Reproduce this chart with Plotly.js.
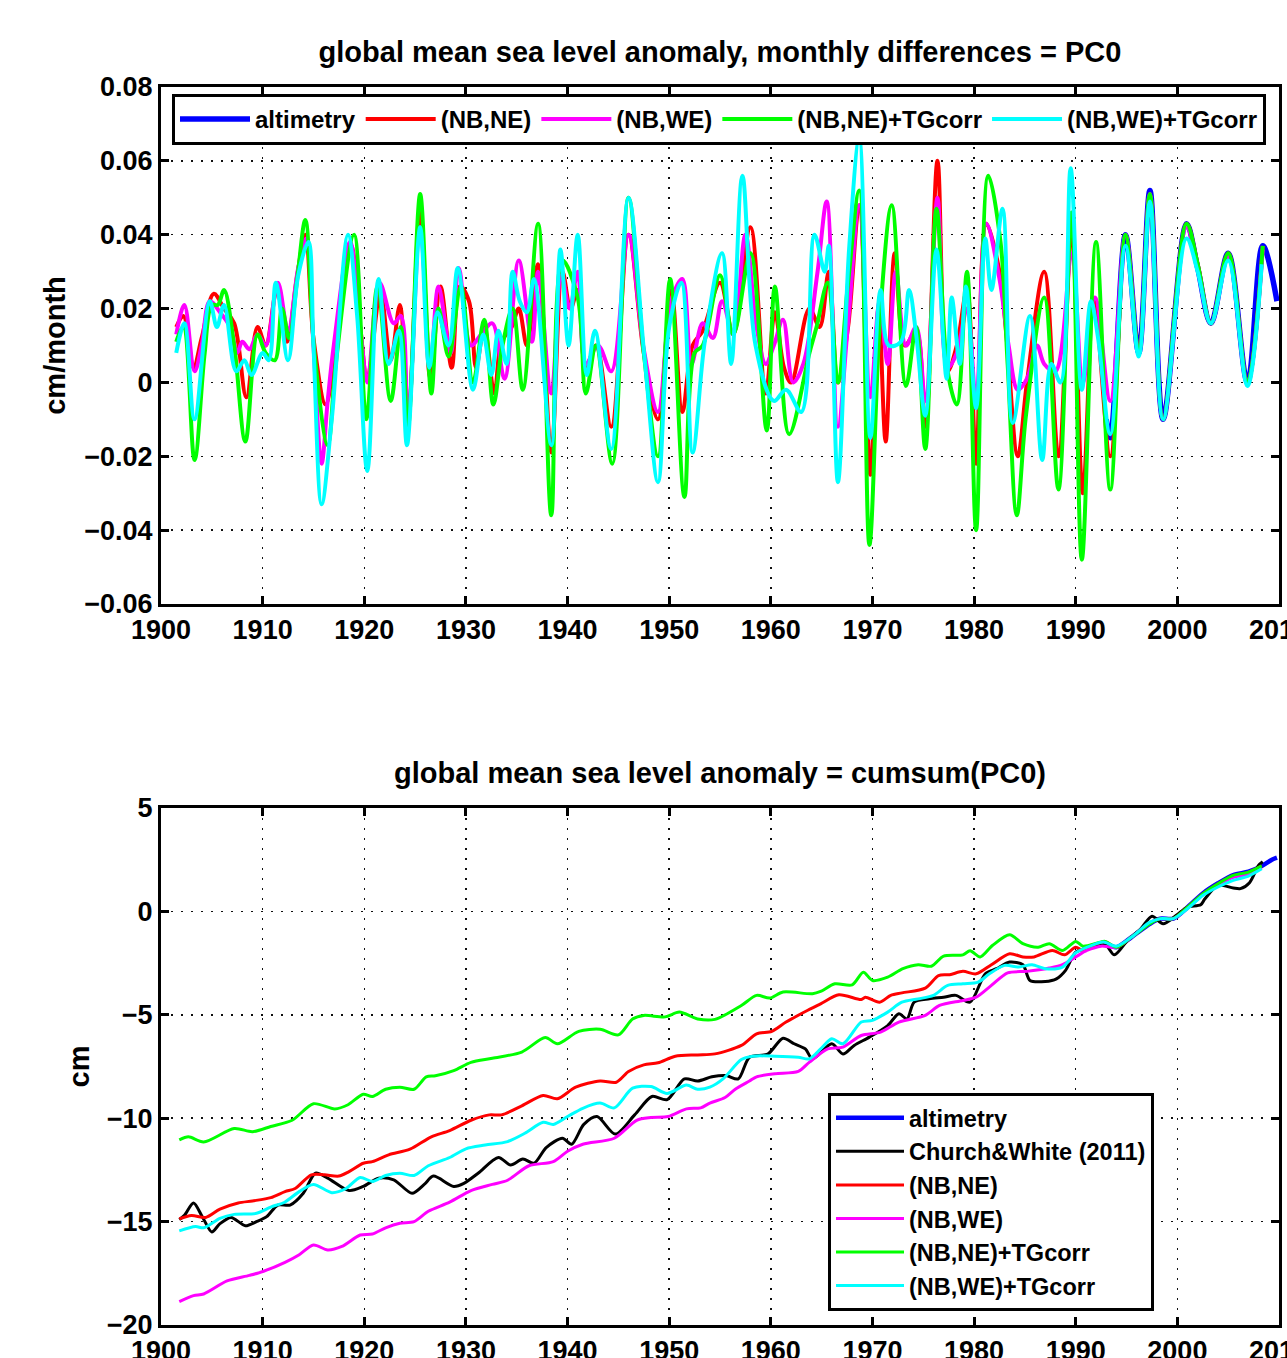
<!DOCTYPE html>
<html>
<head>
<meta charset="utf-8">
<script src="https://cdn.plot.ly/plotly-3.0.1.min.js"></script>
<style>
html,body{margin:0;padding:0;background:#fff;}
#chart{width:1287px;height:1358px;}
</style>
</head>
<body>
<div id="chart"></div>
<script>
// ---------------- TOP PANEL: monthly differences (cm/month) ----------------
var altTopYears = [1993.0,1993.4,1994.9,1996.2,1997.3,1998.6,2000.9,2002.0,2003.3,2005.0,2006.9,2008.4,2009.8];
var altTopVals  = [-0.010,-0.015,0.040,0.008,0.052,-0.010,0.043,0.031,0.016,0.035,0.000,0.037,0.022];

var neTopYears = [1901.5,1902.2,1903.2,1904.0,1905.2,1906.2,1907.2,1908.4,1909.5,1910.3,1911.4,1912.4,1913.4,1914.2,1915.0,1916.2,1917.0,1918.7,1919.6,1920.3,1921.6,1922.6,1923.5,1924.3,1925.5,1926.5,1927.5,1928.6,1929.4,1930.3,1931.0,1931.8,1932.8,1933.5,1934.5,1935.2,1936.0,1937.1,1938.4,1939.5,1940.3,1941.0,1941.8,1942.8,1944.3,1946.0,1947.5,1948.9,1950.2,1951.3,1952.3,1953.3,1955.0,1956.3,1958.0,1959.5,1960.4,1961.3,1962.0,1963.8,1964.8,1965.7,1966.6,1967.6,1968.7,1969.8,1970.6,1971.3,1972.2,1973.2,1974.3,1975.2,1976.4,1977.4,1978.3,1979.3,1980.2,1981.2,1982.5,1983.2,1984.3,1985.2,1986.9,1988.3,1989.6,1990.7,1991.8,1993.4,1994.9,1996.2,1997.3,1998.6,2000.9,2002.0,2003.3,2005.0,2006.9,2008.4];
var neTopVals  = [0.015,0.018,0.004,0.012,0.024,0.020,0.016,-0.004,0.015,0.010,0.025,0.011,0.029,0.040,0.012,-0.006,0.005,0.037,0.015,0.001,0.024,0.006,0.021,-0.010,0.047,0.001,0.026,0.004,0.026,0.022,0.004,0.015,-0.003,0.011,0.015,0.020,0.010,0.032,-0.019,0.030,0.020,0.025,0.004,0.010,-0.012,0.040,0.008,-0.010,0.025,-0.008,0.010,0.014,0.027,0.013,0.042,-0.003,0.019,0.004,0.000,0.020,0.015,0.030,0.000,0.015,0.048,-0.025,0.020,-0.016,0.035,0.010,0.014,-0.012,0.060,0.003,0.010,0.025,-0.022,0.043,0.030,0.012,-0.020,0.000,0.030,-0.020,0.040,-0.030,0.022,-0.020,0.040,0.008,0.051,-0.010,0.043,0.032,0.016,0.035,0.000,0.037];

var weTopYears = [1901.5,1902.3,1903.3,1904.0,1904.8,1905.8,1906.8,1907.5,1908.0,1908.7,1909.5,1910.3,1911.5,1912.5,1913.5,1914.3,1915.0,1915.8,1916.4,1917.0,1918.6,1919.6,1920.3,1921.5,1922.9,1923.6,1924.3,1925.5,1926.5,1927.3,1928.5,1929.3,1930.5,1931.5,1932.6,1933.8,1935.2,1936.5,1937.1,1938.4,1939.4,1940.2,1941.0,1941.8,1943.0,1944.3,1946.0,1947.5,1948.9,1950.2,1951.3,1952.2,1953.3,1954.3,1955.2,1956.3,1957.5,1958.6,1959.5,1960.3,1961.2,1962.2,1963.2,1964.6,1965.5,1966.6,1967.6,1968.7,1969.8,1970.7,1971.5,1972.3,1973.3,1974.3,1975.2,1976.4,1977.4,1978.3,1979.3,1980.2,1981.2,1982.5,1983.4,1984.3,1985.2,1986.2,1986.9,1988.0,1989.6,1990.7,1991.9,1993.4,1994.9,1996.2,1997.3,1998.6,2000.9,2002.0,2003.3,2005.0,2006.9,2008.4];
var weTopVals  = [0.013,0.021,0.003,0.010,0.022,0.019,0.015,0.008,0.011,0.009,0.013,0.010,0.027,0.014,0.031,0.039,0.010,-0.022,-0.005,0.010,0.038,0.015,0.000,0.027,0.016,0.018,-0.010,0.042,0.005,0.026,0.008,0.031,0.010,0.013,0.016,0.001,0.033,0.011,0.030,-0.003,0.029,0.020,0.030,0.005,0.010,0.003,0.040,0.009,-0.008,0.022,0.028,0.005,0.016,0.012,0.022,0.013,0.040,0.015,0.005,0.010,0.017,0.000,0.005,0.030,0.049,-0.012,0.016,0.048,-0.004,0.022,0.005,0.030,0.010,0.015,-0.005,0.050,0.004,0.008,0.020,-0.005,0.043,0.028,0.010,-0.002,0.001,0.010,0.005,0.003,0.035,0.000,0.023,-0.005,0.040,0.008,0.051,-0.010,0.042,0.031,0.016,0.034,0.000,0.036];

var neTgTopYears = [1901.5,1902.2,1903.3,1904.3,1905.0,1905.6,1906.2,1907.2,1908.3,1909.5,1910.3,1911.2,1911.9,1912.6,1913.4,1914.2,1915.1,1916.4,1917.2,1919.0,1920.2,1921.3,1922.6,1923.6,1924.3,1925.5,1926.6,1927.3,1928.3,1929.5,1930.7,1931.8,1932.7,1933.6,1934.6,1935.6,1937.1,1938.4,1939.5,1941.0,1941.8,1942.8,1944.4,1946.0,1947.5,1948.9,1950.1,1951.5,1952.5,1953.3,1955.0,1956.3,1958.0,1959.6,1960.4,1961.8,1963.8,1964.5,1965.6,1966.6,1967.6,1968.7,1969.7,1970.8,1971.9,1973.3,1974.3,1975.2,1976.3,1977.4,1978.3,1979.3,1980.2,1981.4,1982.6,1983.3,1984.2,1985.1,1986.9,1988.3,1989.6,1990.6,1992.0,1993.4,1994.9,1996.2,1997.3,1998.6,2000.9,2002.0,2003.3,2005.0,2006.9,2008.4];
var neTgTopVals  = [0.011,0.015,-0.021,0.008,0.021,0.021,0.025,0.010,-0.016,0.013,0.008,0.006,0.020,0.012,0.028,0.044,0.008,-0.017,0.005,0.040,-0.010,0.026,-0.005,0.015,-0.012,0.051,-0.003,0.020,0.007,0.026,0.000,0.017,-0.006,0.010,0.020,-0.002,0.043,-0.036,0.033,0.023,-0.003,0.010,-0.022,0.050,0.008,-0.020,0.028,-0.031,0.008,0.010,0.029,0.013,0.035,-0.013,0.026,-0.014,0.008,0.015,0.027,0.000,0.027,0.052,-0.044,0.020,0.048,-0.001,0.015,-0.018,0.047,0.003,-0.006,0.030,-0.040,0.056,0.038,0.005,-0.036,-0.009,0.023,-0.029,0.046,-0.048,0.038,-0.029,0.040,0.008,0.051,-0.010,0.043,0.032,0.016,0.035,0.000,0.037];

var weTgTopYears = [1901.5,1902.3,1903.3,1904.8,1905.5,1906.2,1907.4,1908.2,1908.9,1910.0,1910.6,1911.3,1912.5,1913.5,1914.5,1915.0,1915.8,1916.8,1918.4,1919.3,1920.3,1921.4,1922.4,1923.4,1924.2,1925.5,1926.4,1927.2,1928.3,1929.2,1930.7,1931.7,1932.5,1933.2,1934.0,1934.6,1935.3,1936.0,1936.7,1938.4,1939.3,1940.1,1941.0,1941.9,1942.7,1944.3,1946.0,1947.6,1948.9,1950.0,1951.2,1952.3,1953.5,1955.2,1956.1,1957.2,1958.5,1960.3,1961.5,1963.0,1964.3,1965.3,1965.7,1966.6,1967.7,1968.7,1969.8,1970.8,1971.6,1972.8,1973.6,1974.3,1975.2,1976.3,1977.3,1977.8,1978.6,1979.2,1980.2,1981.1,1981.7,1982.8,1983.8,1985.5,1986.7,1987.6,1988.5,1989.5,1990.6,1991.5,1992.2,1993.4,1994.9,1996.2,1997.3,1998.6,2000.9,2002.0,2003.3,2005.0,2006.9,2008.3];
var weTgTopVals  = [0.008,0.016,-0.010,0.022,0.015,0.021,0.003,0.006,0.002,0.008,0.006,0.027,0.006,0.029,0.038,0.010,-0.033,-0.010,0.040,0.018,-0.024,0.028,0.005,0.014,-0.017,0.042,0.004,0.019,0.010,0.031,-0.002,0.013,0.002,0.014,0.005,0.030,0.022,0.019,0.028,-0.017,0.036,0.010,0.040,0.002,0.014,-0.018,0.050,0.006,-0.027,0.015,0.027,-0.019,0.011,0.035,0.005,0.056,0.010,-0.005,-0.002,-0.008,0.040,0.030,0.037,-0.027,0.036,0.066,-0.015,0.025,0.010,0.011,0.025,0.013,-0.009,0.036,0.001,0.023,0.005,0.026,-0.007,0.039,0.025,0.047,-0.011,0.018,-0.021,0.005,0.000,0.058,-0.002,0.022,0.012,-0.014,0.037,0.007,0.049,-0.010,0.039,0.030,0.016,0.033,-0.001,0.032];

// ---------------- BOTTOM PANEL: cumulative sum (cm) ----------------
var altBotYears = [1993.0,1994.0,1995.5,1997.3,1998.3,1999.6,2001.0,2002.5,2004.0,2005.5,2007.0,2008.3,2009.3,2009.8];
var altBotVals  = [-1.55,-1.73,-1.24,-0.60,-0.35,-0.35,0.20,0.87,1.36,1.76,1.92,2.20,2.50,2.60];

var cwYears = [1901.8,1902.3,1903.2,1904.1,1905.0,1905.8,1906.9,1908.3,1909.4,1910.4,1911.5,1912.7,1914.0,1915.2,1916.4,1918.5,1919.9,1921.4,1922.9,1924.7,1925.9,1926.8,1928.8,1929.8,1931.2,1933.2,1934.4,1935.6,1936.7,1937.9,1939.5,1940.4,1941.6,1942.9,1944.7,1946.6,1948.3,1949.8,1951.5,1952.8,1954.2,1955.6,1956.8,1957.9,1959.7,1961.2,1962.3,1963.4,1964.1,1966.0,1967.1,1968.2,1969.7,1971.5,1972.6,1973.4,1974.1,1975.6,1977.0,1978.2,1979.6,1981.1,1982.2,1983.5,1984.8,1985.5,1987.0,1988.1,1989.0,1990.0,1991.4,1992.9,1993.8,1995.1,1996.4,1997.5,1998.6,1999.9,2001.0,2002.3,2002.7,2004.0,2005.5,2006.2,2007.1,2008.0,2008.4];
var cwVals  = [-14.9,-14.7,-14.1,-14.8,-15.5,-15.1,-14.8,-15.2,-15.0,-14.76,-14.2,-14.2,-13.63,-12.66,-12.9,-13.5,-13.3,-12.9,-12.98,-13.63,-13.2,-12.8,-13.3,-13.15,-12.66,-11.9,-12.26,-11.97,-12.18,-11.42,-10.97,-11.26,-10.3,-9.92,-10.77,-9.84,-8.95,-9.1,-8.1,-8.2,-8.0,-7.94,-8.1,-7.05,-6.9,-6.13,-6.4,-6.65,-7.13,-6.4,-6.9,-6.48,-6.08,-5.52,-4.95,-5.2,-4.39,-4.23,-4.15,-4.06,-4.39,-3.02,-2.77,-2.45,-2.58,-3.34,-3.39,-3.26,-2.85,-1.97,-1.73,-1.61,-2.1,-1.4,-0.84,-0.23,-0.6,-0.19,0.21,0.32,0.6,1.26,1.13,1.1,1.39,2.23,2.4];

var neBotYears = [1901.8,1903.0,1904.4,1905.8,1907.6,1909.0,1910.8,1912.2,1913.2,1914.8,1916.1,1917.5,1918.5,1919.9,1920.8,1922.4,1924.5,1926.6,1928.4,1930.5,1932.3,1933.5,1935.5,1937.6,1939.0,1940.8,1943.2,1944.8,1946.0,1947.5,1948.9,1950.6,1952.8,1954.5,1957.1,1958.6,1960.1,1961.5,1963.4,1964.9,1966.7,1968.9,1969.3,1970.7,1971.8,1972.9,1975.2,1976.5,1977.6,1978.9,1980.2,1981.7,1983.5,1984.8,1985.9,1987.7,1988.9,1990.0,1990.7,1992.2,1992.9,1994.0,1995.5,1997.3,1998.3,1999.6,2001.0,2002.5,2004.0,2005.5,2007.0,2008.3];
var neBotVals  = [-14.87,-14.7,-14.8,-14.4,-14.1,-14.0,-13.84,-13.55,-13.4,-12.74,-12.74,-12.8,-12.58,-12.18,-12.1,-11.77,-11.5,-10.9,-10.6,-10.1,-9.84,-9.84,-9.4,-8.9,-9.06,-8.5,-8.2,-8.26,-7.74,-7.42,-7.32,-7.0,-6.94,-6.89,-6.48,-5.92,-5.8,-5.35,-4.84,-4.47,-4.03,-4.26,-4.15,-4.39,-4.06,-3.94,-3.71,-3.1,-3.06,-2.9,-3.02,-2.58,-2.05,-2.2,-2.2,-1.89,-2.1,-1.73,-1.89,-1.55,-1.47,-1.73,-1.24,-0.58,-0.35,-0.35,0.2,0.85,1.34,1.74,1.9,2.2];

var weBotYears = [1901.8,1903.2,1904.2,1906.5,1908.7,1910.1,1912.2,1913.6,1915.0,1916.4,1917.8,1919.6,1920.8,1922.1,1923.5,1924.9,1926.3,1928.4,1930.5,1932.6,1934.1,1936.2,1938.6,1940.0,1941.5,1944.6,1946.8,1948.2,1949.9,1951.7,1953.1,1954.0,1955.5,1956.5,1957.9,1958.6,1960.4,1962.7,1963.8,1965.6,1967.1,1968.9,1970.8,1972.6,1975.2,1976.6,1978.9,1980.2,1981.7,1983.3,1985.2,1987.4,1988.7,1990.0,1991.1,1992.5,1994.0,1995.5,1997.3,1998.3,1999.6,2001.0,2002.5,2004.0,2005.5,2007.0,2008.3];
var weBotVals  = [-18.87,-18.58,-18.5,-17.87,-17.6,-17.4,-16.97,-16.6,-16.13,-16.37,-16.2,-15.65,-15.6,-15.3,-15.08,-15.0,-14.5,-14.06,-13.5,-13.2,-13.0,-12.3,-12.1,-11.6,-11.26,-10.97,-10.1,-9.97,-9.92,-9.55,-9.5,-9.27,-9.0,-8.6,-8.2,-8.0,-7.85,-7.74,-7.29,-6.65,-6.56,-6.0,-5.84,-5.35,-5.03,-4.55,-4.31,-4.15,-3.58,-2.97,-2.9,-2.74,-2.58,-2.2,-1.89,-1.68,-1.73,-1.24,-0.55,-0.35,-0.35,0.15,0.8,1.28,1.65,1.8,2.1];

var neTgBotYears = [1901.8,1902.7,1904.2,1907.2,1909.0,1910.8,1912.9,1915.0,1917.1,1918.4,1919.9,1920.8,1922.1,1923.5,1924.9,1926.1,1927.0,1928.8,1930.5,1932.6,1935.5,1937.8,1939.0,1941.1,1943.2,1945.0,1946.4,1947.5,1949.6,1951.0,1952.8,1954.5,1957.1,1958.6,1959.9,1961.2,1964.1,1964.9,1966.3,1968.0,1969.1,1970.0,1971.5,1973.0,1974.5,1975.8,1977.0,1978.9,1979.6,1980.6,1981.8,1983.5,1984.8,1986.3,1987.4,1988.7,1990.0,1990.7,1992.2,1992.9,1994.0,1995.5,1997.3,1998.3,1999.6,2001.0,2002.5,2004.0,2005.5,2007.0,2008.3];
var neTgBotVals  = [-11.05,-10.9,-11.15,-10.5,-10.65,-10.4,-10.1,-9.3,-9.55,-9.35,-8.84,-8.95,-8.6,-8.5,-8.6,-8.0,-7.95,-7.7,-7.3,-7.1,-6.8,-6.1,-6.4,-5.8,-5.7,-5.97,-5.2,-5.03,-5.1,-4.87,-5.2,-5.22,-4.55,-4.06,-4.19,-3.9,-3.98,-3.87,-3.5,-3.55,-2.94,-3.34,-3.18,-2.77,-2.58,-2.65,-2.16,-2.1,-1.9,-2.2,-1.65,-1.13,-1.56,-1.73,-1.56,-1.89,-1.45,-1.68,-1.52,-1.45,-1.73,-1.24,-0.6,-0.35,-0.35,0.2,0.85,1.34,1.74,1.9,2.2];

var weTgBotYears = [1901.8,1903.4,1904.2,1905.8,1907.2,1909.4,1910.8,1912.2,1913.6,1915.0,1916.8,1918.2,1919.6,1920.8,1922.1,1923.5,1924.9,1926.3,1928.4,1930.0,1931.9,1934.1,1935.8,1937.6,1938.6,1940.0,1941.5,1943.2,1944.6,1946.4,1948.2,1949.8,1951.7,1952.8,1954.0,1955.3,1957.1,1958.2,1960.4,1962.7,1963.8,1964.9,1966.0,1967.1,1968.9,1970.0,1971.5,1972.9,1974.5,1976.0,1977.4,1978.9,1980.4,1981.5,1983.0,1984.4,1985.7,1987.0,1988.7,1990.0,1991.4,1992.7,1994.0,1995.5,1997.3,1998.4,1999.6,2001.0,2002.5,2004.0,2005.5,2007.0,2008.3];
var weTgBotVals  = [-15.45,-15.24,-15.3,-14.84,-14.65,-14.6,-14.3,-14.05,-13.55,-13.2,-13.6,-13.4,-12.87,-13.06,-12.77,-12.66,-12.77,-12.3,-11.9,-11.48,-11.3,-11.13,-10.73,-10.2,-10.3,-9.92,-9.52,-9.27,-9.5,-8.55,-8.47,-8.8,-8.4,-8.6,-8.5,-8.1,-7.16,-7.0,-7.0,-7.05,-7.13,-6.65,-6.16,-6.4,-5.35,-5.27,-4.87,-4.39,-4.23,-4.06,-3.58,-3.5,-3.42,-3.02,-2.61,-2.69,-2.58,-2.77,-2.69,-2.0,-1.68,-1.48,-1.68,-1.24,-0.52,-0.35,-0.35,0.13,0.77,1.18,1.5,1.71,2.06];

// ---------------- labels ----------------
var seriesNames = ['altimetry','Church&White (2011)','(NB,NE)','(NB,WE)','(NB,NE)+TGcorr','(NB,WE)+TGcorr'];
var seriesColors = ['#0000ff','#000000','#ff0000','#ff00ff','#00ff00','#00ffff'];
var titleTop = 'global mean sea level anomaly, monthly differences = PC0';
var titleBottom = 'global mean sea level anomaly = cumsum(PC0)';
var yLabelTop = 'cm/month';
var yLabelBottom = 'cm';

var FONT = 'Liberation Sans, Arial, Helvetica, sans-serif';

function tr(x, y, idx, axes, legend, width, smooth) {
  return {
    type: 'scatter', mode: 'lines', x: x, y: y,
    name: seriesNames[idx],
    xaxis: axes[0], yaxis: axes[1], legend: legend,
    line: {color: seriesColors[idx], width: width, shape: 'spline', smoothing: smooth},
    hoverinfo: 'skip'
  };
}

var T = ['x','y'], B = ['x2','y2'];
var data = [
  tr(altTopYears, altTopVals, 0, T, 'legend', 5.5, 1.0),
  tr(neTopYears, neTopVals, 2, T, 'legend', 4, 1.0),
  tr(weTopYears, weTopVals, 3, T, 'legend', 4, 1.0),
  tr(neTgTopYears, neTgTopVals, 4, T, 'legend', 4, 1.0),
  tr(weTgTopYears, weTgTopVals, 5, T, 'legend', 4, 1.0),
  tr(altBotYears, altBotVals, 0, B, 'legend2', 4.5, 0.8),
  tr(cwYears, cwVals, 1, B, 'legend2', 3, 0.8),
  tr(neBotYears, neBotVals, 2, B, 'legend2', 3, 0.8),
  tr(weBotYears, weBotVals, 3, B, 'legend2', 3, 0.8),
  tr(neTgBotYears, neTgBotVals, 4, B, 'legend2', 3, 0.8),
  tr(weTgBotYears, weTgBotVals, 5, B, 'legend2', 3, 0.8)
];

var tickFont = {family: FONT, size: 27, color: '#000', weight: 'bold'};
var labelFont = {family: FONT, size: 29, color: '#000', weight: 'bold'};
var legFont = {family: FONT, size: 24, color: '#000', weight: 'bold'};
var legFont2 = {family: FONT, size: 23.5, color: '#000', weight: 'bold'};

function xax(anchor) {
  return {
    anchor: anchor, domain: [0, 1], range: [1900, 2010], tick0: 1900, dtick: 10,
    ticks: 'inside', ticklen: 8, tickwidth: 3, tickcolor: '#000',
    showline: true, linewidth: 3, linecolor: '#000', mirror: 'allticks',
    showgrid: true, gridcolor: '#111', gridwidth: 1.5, griddash: '2px,8px',
    zeroline: false, tickfont: tickFont, ticklabeloverflow: 'allow', fixedrange: true
  };
}
function yax(anchor, domain, range, dtick, label, standoff) {
  return {
    anchor: anchor, domain: domain, range: range, dtick: dtick,
    ticks: 'inside', ticklen: 8, tickwidth: 3, tickcolor: '#000',
    showline: true, linewidth: 3, linecolor: '#000', mirror: 'allticks',
    showgrid: true, gridcolor: '#111', gridwidth: 1.5, griddash: '2px,8px',
    zeroline: false, tickfont: tickFont, ticklabeloverflow: 'allow', fixedrange: true,
    title: {text: label, font: labelFont, standoff: standoff}
  };
}

var layout = {
  width: 1287, height: 1358,
  margin: {l: 161, r: 8, t: 0, b: 0, pad: 0},
  paper_bgcolor: '#fff', plot_bgcolor: '#fff',
  font: {family: FONT, color: '#000'},
  title: {text: titleTop, font: labelFont, x: 0.5, xref: 'paper', y: 1 - 52/1358, yref: 'container', yanchor: 'middle'},
  xaxis: xax('y'),
  yaxis: yax('x', [1 - 604/1358, 1 - 87/1358], [-0.06, 0.08], 0.02, yLabelTop, 11),
  xaxis2: xax('y2'),
  yaxis2: yax('x2', [1 - 1325/1358, 1 - 808/1358], [-20, 5], 5, yLabelBottom, 9),
  showlegend: true,
  legend: {
    orientation: 'h', x: (172-161)/1118, y: 1 - 94/1358, xanchor: 'left', yanchor: 'top',
    bgcolor: '#fff', bordercolor: '#000', borderwidth: 3, font: legFont, itemwidth: 70,
    traceorder: 'normal'
  },
  legend2: {
    orientation: 'v', x: (828-161)/1118, y: 1 - 1093/1358, xanchor: 'left', yanchor: 'top',
    bgcolor: '#fff', bordercolor: '#000', borderwidth: 3, font: legFont2, itemwidth: 68,
    traceorder: 'normal', tracegroupgap: 0
  },
  annotations: [{
    text: titleBottom, xref: 'paper', yref: 'paper', x: 0.5, y: 1 - 773/1358,
    xanchor: 'center', yanchor: 'middle', showarrow: false, font: labelFont
  }]
};

Plotly.newPlot('chart', data, layout, {staticPlot: true, displayModeBar: false, responsive: false});
</script>
</body>
</html>
